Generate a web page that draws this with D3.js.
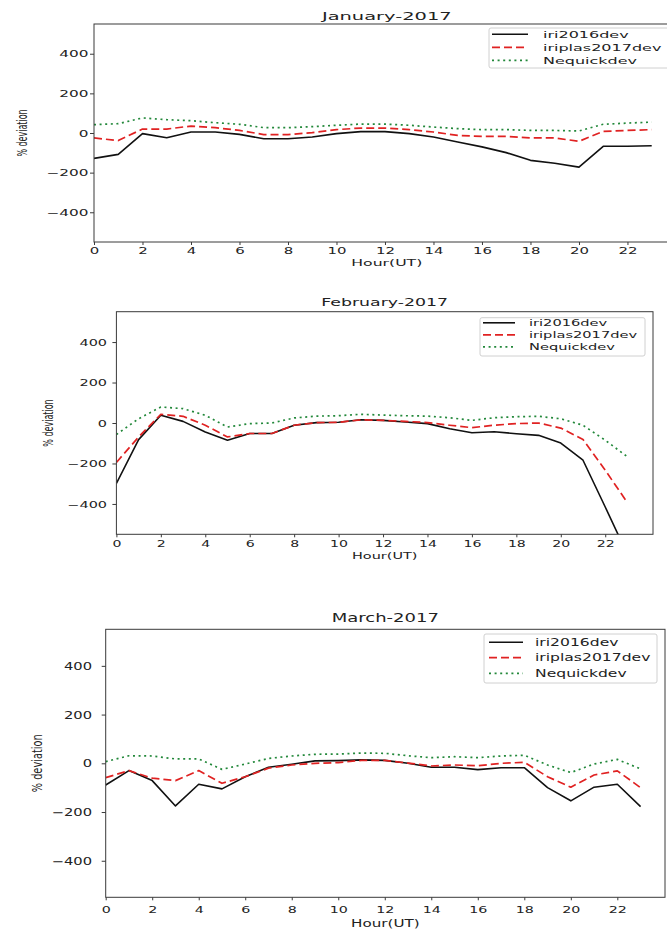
<!DOCTYPE html>
<html><head><meta charset="utf-8">
<script src="https://cdn.jsdelivr.net/npm/d3@7/dist/d3.min.js"></script>
<style>body{margin:0;background:#fff}svg{display:block}</style>
</head><body>
<script>
// ---------- data ----------
const hours = d3.range(0, 24);
const xTicks = [0, 2, 4, 6, 8, 10, 12, 14, 16, 18, 20, 22];
const yTicks = [-400, -200, 0, 200, 400];
const seriesNames = ["iri2016dev", "iriplas2017dev", "Nequickdev"];
const titles = ["January-2017", "February-2017", "March-2017"];

const janIri2016 = [-128, -108, -3, -24, 5, 5, -7, -29, -29, -20, -3, 7, 7, -3, -20, -45, -70, -99, -138, -153, -172, -67, -67, -64];
const janIriplas = [-25, -38, 20, 20, 35, 27, 13, -8, -8, 2, 17, 25, 25, 17, 5, -12, -17, -17, -25, -25, -42, 8, 13, 17];
const janNequick = [42, 47, 76, 67, 62, 52, 44, 27, 27, 32, 39, 45, 45, 39, 30, 22, 17, 17, 13, 13, 10, 44, 50, 55];

const febIri2016 = [-299, -82, 38, 8, -44, -85, -52, -52, -11, 2, 4, 16, 13, 5, -3, -28, -48, -43, -53, -61, -99, -184, -415, -650];
const febIriplas = [-195, -69, 43, 33, -11, -69, -52, -52, -11, 2, 3, 16, 13, 8, 2, -11, -23, -11, -3, 0, -25, -82, -233, -394];
const febNequick = [-57, 21, 79, 71, 38, -20, -3, 0, 25, 34, 36, 43, 39, 36, 34, 26, 13, 26, 31, 33, 21, -11, -85, -167];

const marIri2016 = [-89, -30, -71, -175, -86, -105, -55, -16, -4, 10, 11, 14, 12, 0, -16, -16, -26, -18, -18, -100, -154, -98, -86, -178];
const marIriplas = [-59, -30, -61, -71, -30, -82, -55, -20, -7, 0, 3, 12, 12, 1, -11, -7, -10, 0, 4, -55, -98, -48, -31, -100];
const marNequick = [7, 31, 30, 18, 18, -25, -3, 20, 30, 37, 38, 42, 41, 31, 23, 27, 23, 30, 33, -7, -38, -3, 16, -23];

const monthData = [
  [janIri2016, janIriplas, janNequick],
  [febIri2016, febIriplas, febNequick],
  [marIri2016, marIriplas, marNequick]
];

// ---------- styles / layout ----------
const styles = [
  {color: "#111111", dash: null, width: 1.6},
  {color: "#e02222", dash: "8,4", width: 1.7},
  {color: "#22883a", dash: "2,3.6", width: 1.7}
];
const layouts = [
  {left: 94, right: 679.6, xmax: 24.15, top: 24, bottom: 242, H: 1.8,
   titleY: 19.5, titleF: 10.8, xtF: 8.3, xtY: 254, ytF: 8.5, ytEnd: 88.5,
   xlY: 265.7, xlF: 8.7, ylX: 26.5, ylF: 8,
   lg: {x: 489, y: 28, w: 200, h: 40, l0: 492, l1: 528, rows: [34.3, 47.3, 60.3], tx: 543, f: 8.9}},
  {left: 116.4, right: 653, xmax: 24.15, top: 311.7, bottom: 534.3, H: 1.7,
   titleY: 305.5, titleF: 10.2, xtF: 8.3, xtY: 546.8, ytF: 8.5, ytEnd: 107,
   xlY: 558.5, xlF: 8.5, ylX: 53, ylF: 8,
   lg: {x: 480, y: 317.7, w: 165, h: 38.3, l0: 483, l1: 515, rows: [322.8, 334.8, 346.8], tx: 529, f: 8.6}},
  {left: 105.7, right: 665, xmax: 24.05, top: 629.3, bottom: 897.3, H: 1.5,
   titleY: 622, titleF: 12, xtF: 9.5, xtY: 913.5, ytF: 9.8, ytEnd: 92,
   xlY: 926.5, xlF: 10.1, ylX: 41.5, ylF: 9.8,
   lg: {x: 484, y: 634, w: 173, h: 49, l0: 489, l1: 523, rows: [642.3, 657.7, 673.3], tx: 535, f: 10.4}}
];

const FONT = "DejaVu Sans, sans-serif";
const TXT = "#222";

const svg = d3.select("body").append("svg").attr("width", 667).attr("height", 931);

function stext(parent, x, y, str, f, H, anchor, rot) {
  const g = parent.append("g")
    .attr("transform", `translate(${x},${y}) scale(${H},1)` + (rot ? ` rotate(${rot})` : ""));
  g.append("text").attr("x", 0).attr("y", 0)
    .attr("text-anchor", anchor || "start")
    .attr("font-family", FONT).attr("font-size", f).attr("fill", TXT)
    .text(str);
  return g;
}

const fmtY = d => d < 0 ? "\u2212" + Math.abs(d) : String(d);

layouts.forEach((L, i) => {
  const g = svg.append("g");
  const x = d3.scaleLinear().domain([0, L.xmax]).range([L.left, L.right]);
  const y = d3.scaleLinear().domain([-550, 550]).range([L.bottom, L.top]);

  const clipId = "clip" + i;
  g.append("clipPath").attr("id", clipId).append("rect")
    .attr("x", L.left).attr("y", L.top)
    .attr("width", L.right - L.left).attr("height", L.bottom - L.top);

  // lines
  const line = d3.line().x((d, j) => x(hours[j])).y(d => y(d));
  monthData[i].forEach((vals, s) => {
    g.append("path").datum(vals)
      .attr("clip-path", `url(#${clipId})`)
      .attr("d", line).attr("fill", "none")
      .attr("stroke", styles[s].color).attr("stroke-width", styles[s].width)
      .attr("stroke-dasharray", styles[s].dash)
      .attr("stroke-linejoin", "round");
  });

  // frame
  g.append("rect").attr("x", L.left).attr("y", L.top)
    .attr("width", L.right - L.left).attr("height", L.bottom - L.top)
    .attr("fill", "none").attr("stroke", "#3a3a3a").attr("stroke-width", 1);

  // x axis
  const xa = g.append("g").attr("transform", `translate(0,${L.bottom})`)
    .call(d3.axisBottom(x).tickValues(xTicks).tickSize(3).tickFormat(d3.format("d")));
  xa.select(".domain").remove();
  xa.selectAll(".tick line").attr("stroke", "#3a3a3a");
  xa.selectAll(".tick text")
    .attr("y", L.xtY - L.bottom).attr("dy", null)
    .attr("transform", `scale(${L.H},1)`)
    .attr("font-family", FONT).attr("font-size", L.xtF).attr("fill", TXT);

  // y axis
  const ya = g.append("g").attr("transform", `translate(${L.left},0)`)
    .call(d3.axisLeft(y).tickValues(yTicks).tickSize(4).tickFormat(fmtY));
  ya.select(".domain").remove();
  ya.selectAll(".tick line").attr("stroke", "#3a3a3a");
  ya.selectAll(".tick text")
    .attr("x", (L.ytEnd - L.left) / L.H).attr("dy", "0.36em")
    .attr("transform", `scale(${L.H},1)`)
    .attr("font-family", FONT).attr("font-size", L.ytF).attr("fill", TXT);

  // title & labels
  const cx = (L.left + L.right) / 2;
  stext(g, cx, L.titleY, titles[i], L.titleF, L.H, "middle");
  stext(g, cx, L.xlY, "Hour(UT)", L.xlF, L.H, "middle");
  stext(g, L.ylX, (L.top + L.bottom) / 2, "% deviation", L.ylF, L.H, "middle", -90);

  // legend
  const lg = L.lg;
  g.append("rect").attr("x", lg.x).attr("y", lg.y).attr("width", lg.w).attr("height", lg.h)
    .attr("rx", 2).attr("fill", "#fff").attr("fill-opacity", 0.85)
    .attr("stroke", "#d0d0d0").attr("stroke-width", 1);
  seriesNames.forEach((nm, s) => {
    g.append("line").attr("x1", lg.l0).attr("x2", lg.l1)
      .attr("y1", lg.rows[s]).attr("y2", lg.rows[s])
      .attr("stroke", styles[s].color).attr("stroke-width", styles[s].width)
      .attr("stroke-dasharray", styles[s].dash);
    stext(g, lg.tx, lg.rows[s] + 0.36 * lg.f, nm, lg.f, L.H, "start");
  });
});
</script>
</body></html>
